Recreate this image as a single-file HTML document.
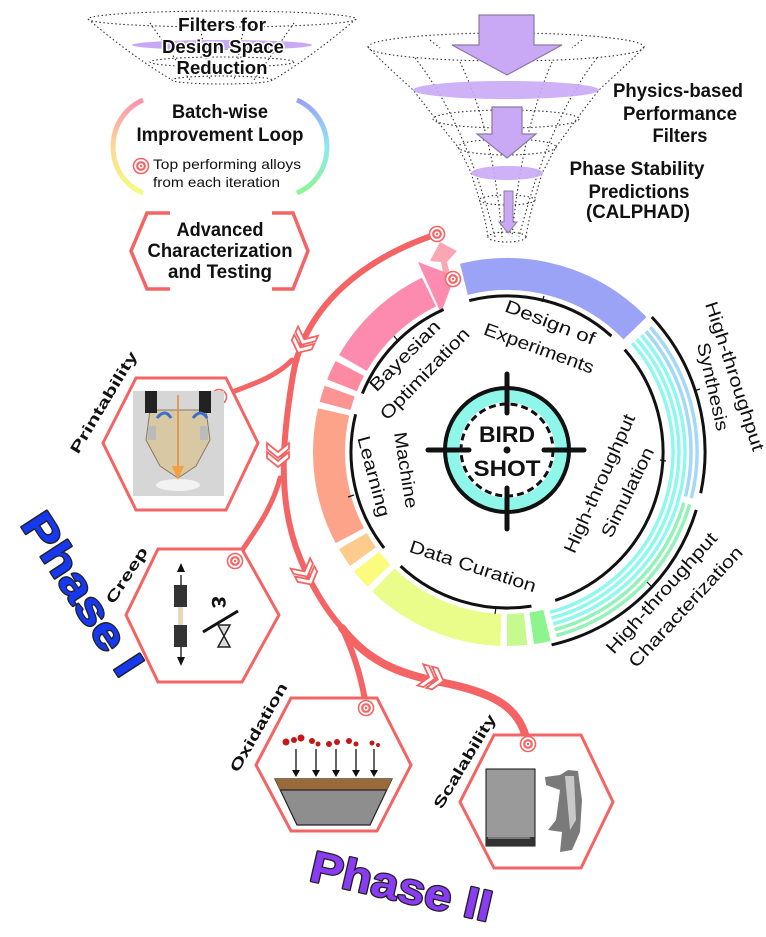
<!DOCTYPE html>
<html><head><meta charset="utf-8"><style>
html,body{margin:0;padding:0;background:#fff;}
svg{display:block;}
text{font-family:"Liberation Sans",Arial,sans-serif;}
.b{font-weight:bold;}
</style></head><body>
<svg width="766" height="937" viewBox="0 0 766 937" xmlns="http://www.w3.org/2000/svg">
<defs>
<g id="mk"><circle r="7.5" fill="#fff" stroke="#f46464" stroke-width="1.6"/><circle r="3.8" fill="#fff" stroke="#f46464" stroke-width="2.2"/><circle r="1.2" fill="#f46464"/></g>
<g id="chev"><path d="M-12,-11 L-3,0 L-12,11 L-6,11 L3,0 L-6,-11 Z" fill="#fff" stroke="#f46464" stroke-width="1.8"/><path d="M-3,-11 L6,0 L-3,11 L3,11 L12,0 L3,-11 Z" fill="#fff" stroke="#f46464" stroke-width="1.8"/></g>
<linearGradient id="gl" x1="0" y1="0" x2="0" y2="1"><stop offset="0" stop-color="#fc8fb0"/><stop offset="0.45" stop-color="#fcd49a"/><stop offset="1" stop-color="#f6fc80"/></linearGradient>
<linearGradient id="gr" x1="0" y1="0" x2="0" y2="1"><stop offset="0" stop-color="#9aa2f6"/><stop offset="0.5" stop-color="#8ee8f4"/><stop offset="1" stop-color="#8ef590"/></linearGradient>
</defs>

<!-- top-left funnel -->
<g fill="none" stroke="#333" stroke-width="1.1" stroke-dasharray="1.5 2.5">
<ellipse cx="222" cy="19" rx="134" ry="8"/>
<ellipse cx="222" cy="62" rx="72" ry="5"/>
<ellipse cx="222" cy="80" rx="50" ry="4"/>
<path d="M88,19 Q130,55 172,80 M356,19 Q314,55 273,80 M150,23 L190,80 M294,23 L254,80 M200,26 L210,80 M244,26 L234,80"/>
</g>
<ellipse cx="222" cy="45" rx="90" ry="5" fill="#c9a8f5"/>
<g class="b" font-size="18" text-anchor="middle" fill="#111">
<text x="222" y="31" textLength="88" lengthAdjust="spacingAndGlyphs" style="paint-order:stroke" stroke="#fff" stroke-width="3">Filters for</text>
<text x="223" y="53" textLength="122" lengthAdjust="spacingAndGlyphs" style="paint-order:stroke" stroke="#fff" stroke-width="3">Design Space</text>
<text x="222" y="74" textLength="91" lengthAdjust="spacingAndGlyphs" style="paint-order:stroke" stroke="#fff" stroke-width="3">Reduction</text>
</g>

<!-- batch-wise -->
<path d="M143,100 C103,118 103,176 143,193" fill="none" stroke="url(#gl)" stroke-width="5"/>
<path d="M297,100 C337,118 337,176 297,193" fill="none" stroke="url(#gr)" stroke-width="5"/>
<g class="b" font-size="19" text-anchor="middle" fill="#111">
<text x="220" y="118" textLength="96" lengthAdjust="spacingAndGlyphs">Batch-wise</text>
<text x="220" y="141" textLength="167" lengthAdjust="spacingAndGlyphs">Improvement Loop</text>
</g>
<use href="#mk" x="141" y="166"/>
<g font-size="14" fill="#111">
<text x="153" y="169" textLength="148" lengthAdjust="spacingAndGlyphs">Top performing alloys</text>
<text x="153" y="187" textLength="127" lengthAdjust="spacingAndGlyphs">from each iteration</text>
</g>

<!-- advanced characterization -->
<path d="M170,213 L147,213 L131,251 L147,289 L170,289 M272,213 L293,213 L308,251 L293,289 L272,289" fill="none" stroke="#f46464" stroke-width="3.5"/>
<g class="b" font-size="19" text-anchor="middle" fill="#111">
<text x="220" y="236" textLength="87" lengthAdjust="spacingAndGlyphs">Advanced</text>
<text x="220" y="257" textLength="145" lengthAdjust="spacingAndGlyphs">Characterization</text>
<text x="220" y="278" textLength="104" lengthAdjust="spacingAndGlyphs">and Testing</text>
</g>

<!-- right funnel -->
<g fill="none" stroke="#333" stroke-width="1.1" stroke-dasharray="1.5 2.5">
<ellipse cx="506" cy="47" rx="138" ry="14"/>
<ellipse cx="506" cy="119" rx="73" ry="9"/>
<ellipse cx="507" cy="147" rx="49" ry="8"/>
<ellipse cx="507" cy="200" rx="28" ry="5"/>
<ellipse cx="507" cy="237" rx="19" ry="5"/>
<path d="M368,47 C390,70 405,82 413,90 C425,105 440,125 458,147 C465,160 470,170 471,173 C478,195 485,215 488,237"/>
<path d="M644,47 C622,70 607,82 599,90 C587,105 572,125 556,147 C549,160 544,170 542,173 C536,195 529,215 526,237"/>
<path d="M415,58 C440,90 470,140 495,237 M597,58 C572,90 544,140 519,237 M460,62 C478,100 495,150 502,237 M552,62 C536,100 520,150 512,237 M430,40 L440,48 M582,40 L572,48"/>
</g>
<ellipse cx="506" cy="90" rx="93" ry="9" fill="#c9a8f5" opacity="0.9"/>
<ellipse cx="507" cy="173" rx="36" ry="7" fill="#c9a8f5" opacity="0.9"/>
<path d="M479,15 L534,15 L534,45 L562,45 L507,75 L452,45 L479,45 Z" fill="#c9a8f5" stroke="#8a7aa0" stroke-width="1.2"/>
<path d="M492,107 L522,107 L522,134 L536,134 L507,158 L477,134 L492,134 Z" fill="#c9a8f5" stroke="#8a7aa0" stroke-width="1.2"/>
<path d="M504,191 L513,191 L513,222 L517,222 L508,233 L499,222 L504,222 Z" fill="#c9a8f5" stroke="#8a7aa0" stroke-width="1"/>
<g class="b" font-size="19" text-anchor="middle" fill="#111">
<text x="678" y="97" textLength="130" lengthAdjust="spacingAndGlyphs">Physics-based</text>
<text x="680" y="120" textLength="114" lengthAdjust="spacingAndGlyphs">Performance</text>
<text x="680" y="142" textLength="55" lengthAdjust="spacingAndGlyphs">Filters</text>
<text x="637" y="175" textLength="135" lengthAdjust="spacingAndGlyphs">Phase Stability</text>
<text x="639" y="198" textLength="101" lengthAdjust="spacingAndGlyphs">Predictions</text>
<text x="638" y="218" textLength="104" lengthAdjust="spacingAndGlyphs">(CALPHAD)</text>
</g>

<!-- ring segments r=178 width 32 -->
<g fill="none" stroke-width="32">
<path d="M463.9,279.3 A178,178 0 0 1 635.0,328.3" stroke="#9ba3f7"/>
<path d="M547.0,625.4 A178,178 0 0 1 531.8,628.3" stroke="#8ef58e"/>
<path d="M525.6,629.0 A178,178 0 0 1 507,630" stroke="#c4fa8e"/>
<path d="M500.8,629.9 A178,178 0 0 1 383.3,580.0" stroke="#eafc8a"/>
<path d="M379.0,575.7 A178,178 0 0 1 366.7,561.6" stroke="#fbfb7e"/>
<path d="M363.0,556.6 A178,178 0 0 1 352.9,541.0" stroke="#fdcc8c"/>
<path d="M349.8,535.6 A178,178 0 0 1 333.6,411.9" stroke="#fda38a"/>
<path d="M335.1,405.9 A178,178 0 0 1 339.7,391.1" stroke="#fd9494"/>
<path d="M342.0,385.3 A178,178 0 0 1 349.8,368.4" stroke="#fd8aa0"/>
<path d="M352.9,363.0 A178,178 0 0 1 429.0,292.0" stroke="#fd8bb0"/>
</g>
<path d="M418,262 L455,276 L441,313 Z" fill="#fd8bb0"/>
<path d="M452,282 L447,262 L457,251 L440,242 L430,261 L441,262 L445,283 Z" fill="#f98a9a" opacity="0.75"/>
<!-- line arcs -->
<g fill="none" stroke-width="3.5">
<path d="M632.3,343.1 A166,166 0 0 1 550.0,612.3" stroke="#8ef7ef"/>
<path d="M636.8,339.2 A172,172 0 0 1 551.5,618.1" stroke="#8ef7ef"/>
<path d="M641.3,335.2 A178,178 0 0 1 553.1,623.9" stroke="#8ef7ef"/>
<path d="M645.9,331.3 A184,184 0 0 1 685.5,496.5" stroke="#a4d8f8"/>
<path d="M650.4,327.3 A190,190 0 0 1 691.4,498.0" stroke="#a4d8f8"/>
<path d="M683.9,502.7 A184,184 0 0 1 554.6,629.7" stroke="#93f2b8"/>
<path d="M689.6,504.4 A190,190 0 0 1 556.2,635.5" stroke="#93f2b8"/>
</g>
<!-- black arcs -->
<g fill="none" stroke="#111" stroke-width="3">
<path d="M469.3,300.6 A156,156 0 0 1 611.4,336.1"/>
<path d="M624.7,349.6 A156,156 0 0 1 555.2,600.4"/>
<path d="M531.4,606.1 A156,156 0 0 1 400.6,566.1"/>
<path d="M384.1,548.0 A156,156 0 0 1 355.6,414.3"/>
<path d="M362.4,393.6 A156,156 0 0 1 443.6,309.5"/>
<path d="M651.8,317.0 A198,198 0 0 1 700.7,493.2"/>
<path d="M696.3,509.9 A198,198 0 0 1 551.6,644.9"/>
</g>
<g stroke="#111" stroke-width="1.2">
<line x1="542" y1="302" x2="544" y2="296"/>
<line x1="660" y1="460" x2="666" y2="461"/>
<line x1="496" y1="607" x2="495" y2="614"/>
<line x1="354" y1="495" x2="348" y2="497"/>
<line x1="398" y1="341" x2="394" y2="336"/>
<line x1="694" y1="391" x2="700" y2="389"/>
<line x1="647" y1="582" x2="652" y2="587"/>
</g>
<!-- ring labels -->
<g font-size="18" fill="#111" text-anchor="middle">
<text transform="translate(548,328) rotate(21)" textLength="95" lengthAdjust="spacingAndGlyphs">Design of</text>
<text transform="translate(537,354) rotate(20)" textLength="116" lengthAdjust="spacingAndGlyphs">Experiments</text>
<text transform="translate(409,360) rotate(-45)" textLength="92" lengthAdjust="spacingAndGlyphs">Bayesian</text>
<text transform="translate(429,378) rotate(-46)" textLength="120" lengthAdjust="spacingAndGlyphs">Optimization</text>
<text transform="translate(400,471) rotate(81)" textLength="77" lengthAdjust="spacingAndGlyphs">Machine</text>
<text transform="translate(368,478) rotate(75)" textLength="83" lengthAdjust="spacingAndGlyphs">Learning</text>
<text transform="translate(471,572) rotate(18)" textLength="132" lengthAdjust="spacingAndGlyphs">Data Curation</text>
<text transform="translate(605,486) rotate(-66)" textLength="150" lengthAdjust="spacingAndGlyphs">High-throughput</text>
<text transform="translate(633,495) rotate(-64)" textLength="98" lengthAdjust="spacingAndGlyphs">Simulation</text>
<text transform="translate(729,378) rotate(72)" textLength="156" lengthAdjust="spacingAndGlyphs">High-throughput</text>
<text transform="translate(707,388) rotate(77)" textLength="90" lengthAdjust="spacingAndGlyphs">Synthesis</text>
<text transform="translate(666,597) rotate(-48)" textLength="156" lengthAdjust="spacingAndGlyphs">High-throughput</text>
<text transform="translate(690,611) rotate(-47)" textLength="158" lengthAdjust="spacingAndGlyphs">Characterization</text>
</g>

<!-- target -->
<circle cx="507" cy="450" r="55" fill="none" stroke="#8ef7ea" stroke-width="14"/>
<circle cx="507" cy="450" r="62" fill="none" stroke="#111" stroke-width="4"/>
<circle cx="507" cy="450" r="46" fill="#fff" stroke="#111" stroke-width="3" stroke-dasharray="7 4"/>
<g stroke="#111" stroke-width="5" stroke-linecap="round">
<line x1="428" y1="450" x2="469" y2="450"/><line x1="544" y1="450" x2="584" y2="450"/>
<line x1="507" y1="374" x2="507" y2="413"/><line x1="507" y1="488" x2="507" y2="529"/>
</g>
<circle cx="507" cy="450" r="3.5" fill="#111"/>
<g class="b" font-size="22" text-anchor="middle" fill="#111">
<text x="507" y="442" textLength="56" lengthAdjust="spacingAndGlyphs">BIRD</text>
<text x="507" y="476" textLength="67" lengthAdjust="spacingAndGlyphs">SHOT</text>
</g>

<!-- red paths -->
<g fill="none" stroke="#f46464" stroke-linecap="round">
<path d="M437,234 C365,258 305,305 293,375 C283,435 276,500 300,558 C313,590 328,612 342,628" stroke-width="6"/>
<path d="M342,628 C368,662 400,674 440,682 C490,692 520,705 527,742" stroke-width="8"/>
<path d="M342,628 C355,655 362,680 366,706" stroke-width="6"/>
<path d="M219,397 C250,385 275,378 292,360" stroke-width="5"/>
<path d="M235,561 C252,535 272,510 280,478" stroke-width="5"/>
</g>
<use href="#chev" transform="translate(303,342) rotate(115)"/>
<use href="#chev" transform="translate(278,455) rotate(90)"/>
<use href="#chev" transform="translate(306,574) rotate(62)"/>
<use href="#chev" transform="translate(432,678) rotate(15)"/>
<use href="#mk" x="437" y="234"/>
<use href="#mk" x="453" y="279"/>

<!-- hexagons -->
<g fill="#fff" stroke="#f46464" stroke-width="3">
<path d="M136,378 L226,378 L258,443 L226,510 L136,510 L103,443 Z"/>
<path d="M158,549 L242,549 L279,615 L242,682 L158,682 L126,615 Z"/>
<path d="M291,698 L377,698 L411,765 L377,831 L291,831 L256,765 Z"/>
<path d="M494,735 L581,735 L613,802 L581,868 L494,868 L460,802 Z"/>
</g>
<use href="#mk" x="219" y="397"/>
<use href="#mk" x="235" y="561"/>
<use href="#mk" x="366" y="708"/>
<use href="#mk" x="528" y="744"/>

<!-- printability image -->
<rect x="133" y="391" width="91" height="105" fill="#d6d6d6"/>
<ellipse cx="178" cy="485" rx="22" ry="6" fill="#f2f2f2"/>
<path d="M150,410 L206,410 L210,440 L196,466 L178,478 L160,466 L146,440 Z" fill="#d8c8a4" stroke="#8a7a60" stroke-width="1"/>
<rect x="145" y="391" width="12" height="22" fill="#222"/><rect x="199" y="391" width="12" height="22" fill="#222"/>
<path d="M157,418 q8,-10 14,0 M193,418 q8,-10 14,0" stroke="#3a6fd0" stroke-width="3" fill="none"/>
<rect x="148" y="426" width="8" height="14" fill="#bbb"/><rect x="200" y="426" width="8" height="14" fill="#bbb"/>
<line x1="178" y1="395" x2="178" y2="470" stroke="#e08a30" stroke-width="1.5"/>
<path d="M172,466 L178,480 L184,466 Z" fill="#f5a040"/>

<!-- creep image -->
<line x1="181" y1="575" x2="181" y2="610" stroke="#111" stroke-width="1.3"/>
<path d="M177,572 L181,563 L185,572 Z M177,657 L181,666 L185,657 Z" fill="#111"/>
<rect x="174" y="585" width="13" height="22" fill="#333"/>
<rect x="178" y="607" width="5" height="18" fill="#e8d8b8"/>
<rect x="174" y="625" width="13" height="22" fill="#333"/>
<line x1="181" y1="647" x2="181" y2="660" stroke="#111" stroke-width="1.3"/>
<text class="b" transform="translate(212,596) rotate(90)" font-size="26" fill="#111">ε</text>
<line x1="203" y1="632" x2="238" y2="611" stroke="#111" stroke-width="3"/>
<path d="M218,625 L230,625 L224,636 L230,647 L218,647 L224,636 Z" fill="#ddd" stroke="#222" stroke-width="1.5"/>

<!-- oxidation image -->
<g fill="#c21818">
<circle cx="286" cy="742" r="3.5"/><circle cx="294" cy="740" r="3"/><circle cx="301" cy="738" r="3.5"/><circle cx="312" cy="741" r="3"/><circle cx="318" cy="744" r="2.5"/><circle cx="329" cy="744" r="3"/><circle cx="337" cy="742" r="3"/><circle cx="349" cy="741" r="3"/><circle cx="356" cy="744" r="2.5"/><circle cx="372" cy="743" r="2.5"/><circle cx="378" cy="745" r="2"/>
</g>
<g stroke="#111" stroke-width="1.3">
<line x1="296" y1="749" x2="296" y2="772"/><line x1="316" y1="749" x2="316" y2="772"/><line x1="336" y1="749" x2="336" y2="772"/><line x1="356" y1="749" x2="356" y2="772"/><line x1="374" y1="749" x2="374" y2="772"/>
</g>
<g fill="#111"><path d="M292,770 L300,770 L296,777 Z M312,770 L320,770 L316,777 Z M332,770 L340,770 L336,777 Z M352,770 L360,770 L356,777 Z M370,770 L378,770 L374,777 Z"/></g>
<path d="M275,779 L392,779 L370,825 L297,825 Z" fill="#8e8e8e" stroke="#222" stroke-width="1.2"/>
<path d="M275,779 L392,779 L387,790 L280,790 Z" fill="#9a6a3a"/>
<line x1="280" y1="790" x2="387" y2="790" stroke="#333" stroke-width="1.5"/>

<!-- scalability image -->
<rect x="486" y="769" width="49" height="77" fill="#9a9a9a" stroke="#111" stroke-width="1"/>
<rect x="486" y="837" width="49" height="9" fill="#333"/>
<line x1="488" y1="838" x2="530" y2="838" stroke="#bbb" stroke-width="1"/>
<path d="M545,777 L560,775 L568,770 L578,771 L582,800 L580,832 L572,850 L560,852 L562,832 L548,830 L556,820 L560,790 L546,785 Z" fill="#7a7a7a"/>
<path d="M565,776 L574,776 L576,820 L570,830 Z" fill="#c8c8c8"/>

<!-- labels -->
<g class="b" font-size="15" fill="#111" text-anchor="middle">
<text transform="translate(108,405) rotate(-59)" textLength="116" lengthAdjust="spacingAndGlyphs">Printability</text>
<text transform="translate(131,578) rotate(-57)" textLength="64" lengthAdjust="spacingAndGlyphs">Creep</text>
<text transform="translate(263,730) rotate(-60)" textLength="100" lengthAdjust="spacingAndGlyphs">Oxidation</text>
<text transform="translate(469,764) rotate(-59)" textLength="107" lengthAdjust="spacingAndGlyphs">Scalability</text>
</g>
<g class="b" font-size="44" text-anchor="middle" stroke="#222" stroke-width="2.5" style="paint-order:stroke" stroke-linejoin="round">
<text transform="translate(70,602) rotate(57)" textLength="185" lengthAdjust="spacingAndGlyphs" fill="#1638f0">Phase I</text>
<text transform="translate(398,901) rotate(13)" textLength="185" lengthAdjust="spacingAndGlyphs" fill="#8a3cf5">Phase II</text>
</g>
</svg>
</body></html>
